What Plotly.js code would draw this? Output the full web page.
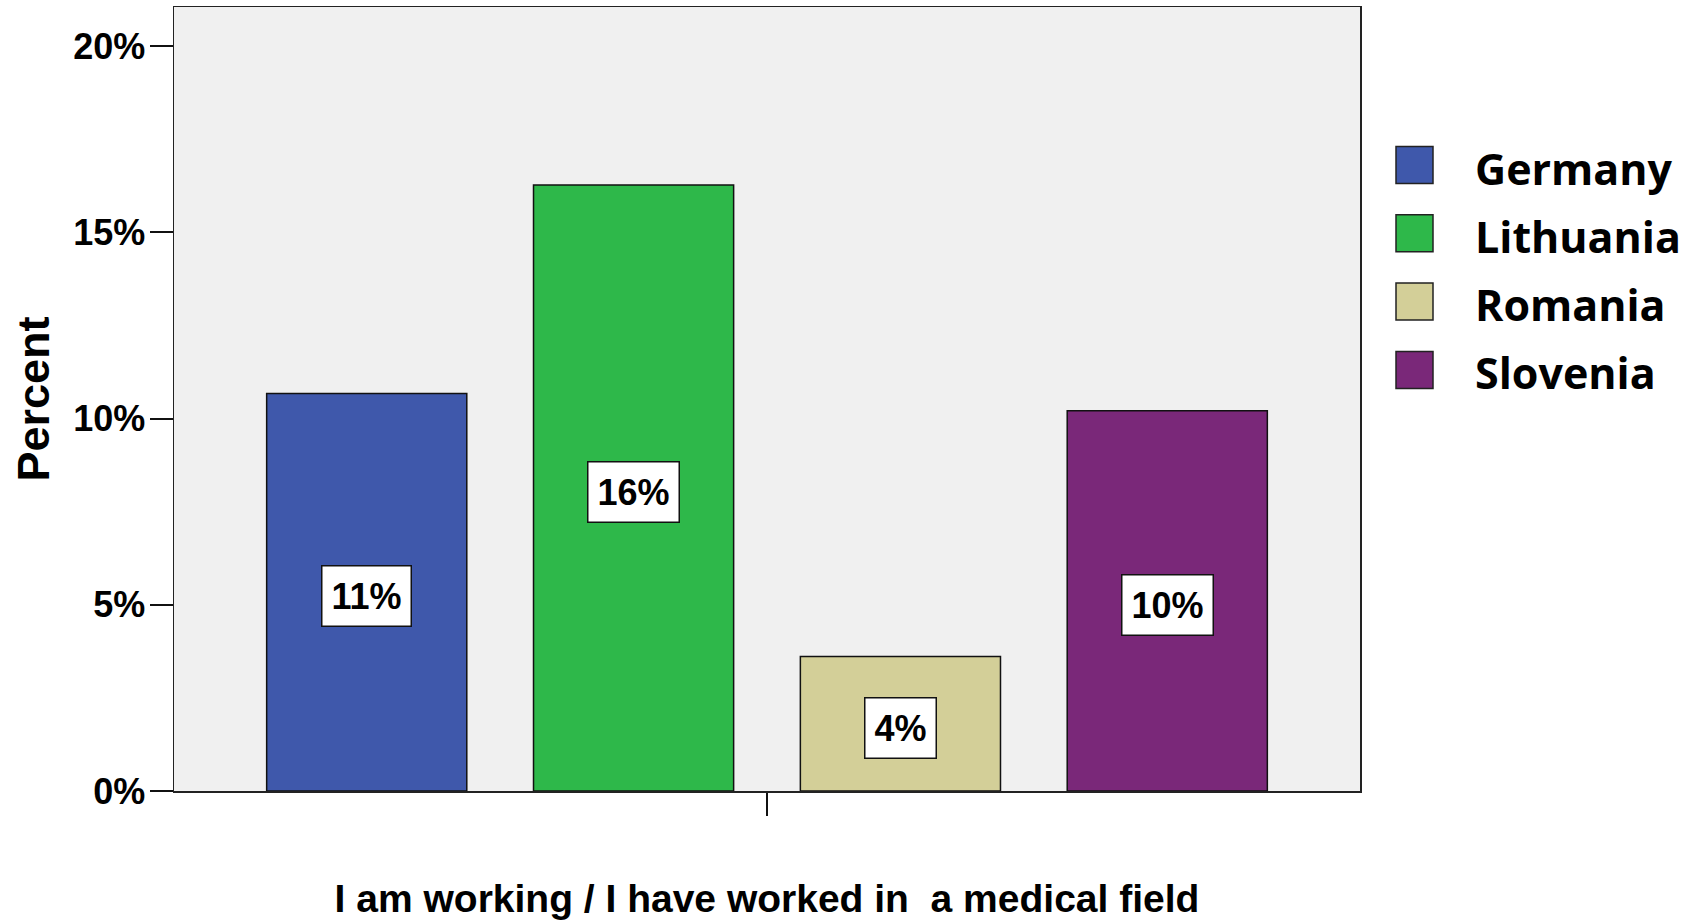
<!DOCTYPE html>
<html>
<head>
<meta charset="utf-8">
<script src="https://cdn.plot.ly/plotly-3.0.1.min.js"></script>
<style>
  html, body { margin: 0; padding: 0; background: #ffffff; }
  #chart { width: 1693px; height: 924px; }
</style>
</head>
<body>
<div id="chart"></div>
<script>
// ---- data ----
const categories = ['I am working / I have worked in\u00a0\u00a0a medical field'];
const countries = ['Germany', 'Lithuania', 'Romania', 'Slovenia'];
const percents = [10.67, 16.27, 3.61, 10.21];
const labels = ['11%', '16%', '4%', '10%'];
const colors = ['#3f58ab', '#2eb84a', '#d3cf98', '#7a2879'];
const yTickVals = [0, 5, 10, 15, 20];
const yTickText = ['0%', '5%', '10%', '15%', '20%'];

// ---- layout constants ----
const W = 1693, H = 924;
const M = { l: 174, r: 333, t: 7, b: 133 };
const plotW = W - M.l - M.r, plotH = H - M.t - M.b;
const bargap = 0.1, bargroupgap = 0.25;
const font = 'Liberation Sans, Arial, sans-serif';
const legendFont = 'Open Sans, Noto Sans, sans-serif';

const traces = countries.map((c, i) => ({
  type: 'bar',
  name: c,
  x: categories,
  y: [percents[i]],
  marker: { color: colors[i], line: { color: '#111111', width: 1.5 } },
  hoverinfo: 'name+y',
  showlegend: false
}));

// value-label positions computed from the group geometry
const slot = (1 - bargap) / countries.length;
const annotations = countries.map((c, i) => ({
  xref: 'x', yref: 'y',
  x: -(1 - bargap) / 2 + slot * (i + 0.5),
  y: percents[i] / 2,
  yshift: -4,
  text: '<b>' + labels[i] + '</b>',
  showarrow: false,
  font: { family: font, size: 36, color: '#000' },
  bgcolor: '#ffffff',
  bordercolor: '#111111',
  borderwidth: 1.5,
  borderpad: 9
}));

// custom legend (large square swatches) in pixel -> paper coordinates
const px = v => (v - M.l) / plotW;
const py = v => (H - M.b - v) / plotH;
const legendTop = 165, legendStep = 68.3, sw = 37;
const shapes = [];
countries.forEach((c, i) => {
  const cy = legendTop + i * legendStep;
  shapes.push({
    type: 'rect', xref: 'paper', yref: 'paper',
    x0: px(1396), x1: px(1396 + sw), y0: py(cy - sw / 2), y1: py(cy + sw / 2),
    fillcolor: colors[i], line: { color: '#222', width: 1.5 }
  });
  annotations.push({
    xref: 'paper', yref: 'paper',
    x: px(1473), y: py(cy + 3), xanchor: 'left', yanchor: 'middle',
    text: '<b>' + c + '</b>', showarrow: false,
    font: { family: legendFont, size: 43, color: '#000' }
  });
});

const layout = {
  width: W, height: H,
  margin: M,
  paper_bgcolor: '#ffffff',
  plot_bgcolor: '#f0f0f0',
  barmode: 'group',
  bargap: bargap,
  bargroupgap: bargroupgap,
  showlegend: false,
  xaxis: {
    type: 'category',
    range: [-0.5, 0.5],
    showticklabels: false,
    ticks: 'outside', ticklen: 23, tickwidth: 2, tickcolor: '#111',
    showline: true, linecolor: '#222', linewidth: 1.5, mirror: true,
    showgrid: false, zeroline: false,
    title: { text: '<b>' + categories[0] + '</b>', font: { family: font, size: 39, color: '#000' }, standoff: 70 }
  },
  yaxis: {
    range: [0, 21.05],
    tickvals: yTickVals,
    ticktext: yTickText.map(t => '<b>' + t + '</b>'),
    ticks: 'outside', ticklen: 23, tickwidth: 2, tickcolor: '#111',
    ticklabelstandoff: -3,
    tickfont: { family: font, size: 36, color: '#000' },
    showline: true, linecolor: '#222', linewidth: 1.5, mirror: true,
    showgrid: false, zeroline: false,
    title: { text: '<b>Percent</b>', font: { family: font, size: 45, color: '#000' }, standoff: 9 }
  },
  annotations: annotations,
  shapes: shapes
};

Plotly.newPlot('chart', traces, layout, { staticPlot: true, displayModeBar: false });
</script>
</body>
</html>
